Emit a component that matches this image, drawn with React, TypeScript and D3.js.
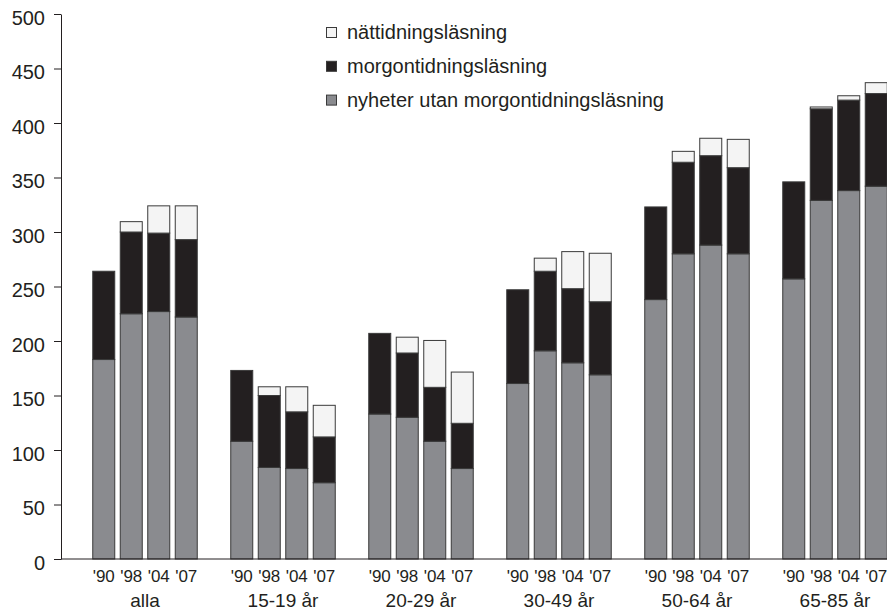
import { useEffect, useRef } from "react"
import * as d3 from "d3"

const groups = ["alla", "15-19 år", "20-29 år", "30-49 år", "50-64 år", "65-85 år"]
const years = ["'90", "'98", "'04", "'07"]

// per group, one value per year
const nyheterUtan = [
  [183, 225, 227, 222],
  [108, 84, 83, 70],
  [133, 130, 108, 83],
  [161, 191, 180, 169],
  [238, 280, 288, 280],
  [257, 329, 338, 342],
]
const morgontidning = [
  [81, 75, 72, 71],
  [65, 66, 52, 42],
  [74, 59, 49.5, 41.5],
  [86, 73, 68, 67],
  [85, 84, 82, 79],
  [89, 84, 83, 85],
]
const nattidning = [
  [0, 9.5, 25, 31],
  [0, 8, 23, 29],
  [0, 14.5, 43, 47],
  [0, 12, 34, 44.5],
  [0, 10, 16, 26],
  [0, 1.7, 4, 10],
]

const seriesKeys = ["nyheter", "morgon", "natt"]
const seriesLabels: Record<string, string> = {
  natt: "nättidningsläsning",
  morgon: "morgontidningsläsning",
  nyheter: "nyheter utan morgontidningsläsning",
}
const colors: Record<string, string> = {
  nyheter: "#8a8b8f",
  morgon: "#231f20",
  natt: "#f4f4f4",
}
const yTicks = [0, 50, 100, 150, 200, 250, 300, 350, 400, 450, 500]

const FONT = "'Liberation Sans', Arial, Helvetica, sans-serif"
const TEXT = "#231f20"

export default function App() {
  const svgRef = useRef<SVGSVGElement>(null)

  useEffect(() => {
    document.body.style.margin = "0"
    if (!svgRef.current) return
    const svg = d3.select(svgRef.current)
    svg.selectAll("*").remove()

    const width = 887
    const axisX = 61

    const y = d3.scaleLinear().domain([0, 500]).range([559, 14])
    const x0 = d3.scaleBand().domain(groups).range([76, 904])
    const x1 = d3.scaleBand().domain(years).range([14, 124]).paddingInner(0.2).paddingOuter(0.1)

    const rows = groups.flatMap((g, gi) =>
      years.map((yr, yi) => ({
        group: g,
        year: yr,
        nyheter: nyheterUtan[gi][yi],
        morgon: morgontidning[gi][yi],
        natt: nattidning[gi][yi],
      })),
    )

    const stacked = d3.stack<any>().keys(seriesKeys)(rows)

    // Bars
    const layers = svg
      .append("g")
      .selectAll("g")
      .data(stacked)
      .enter()
      .append("g")
      .attr("fill", (d) => colors[d.key])

    layers
      .selectAll("rect")
      .data((d) => d.filter((s) => s[1] - s[0] > 0))
      .enter()
      .append("rect")
      .attr("x", (d) => (x0(d.data.group) ?? 0) + (x1(d.data.year) ?? 0))
      .attr("width", x1.bandwidth())
      .attr("y", (d) => y(d[1]))
      .attr("height", (d) => y(d[0]) - y(d[1]))
      .attr("stroke", "#3a3a3a")
      .attr("stroke-width", 1)

    // Y axis
    const yAxis = svg
      .append("g")
      .attr("transform", `translate(${axisX},0)`)
      .call(d3.axisLeft(y).tickValues(yTicks).tickSize(7).tickSizeOuter(0).tickPadding(9))
    yAxis.selectAll("path, line").attr("stroke", TEXT).attr("stroke-width", 1)
    yAxis
      .selectAll("text")
      .attr("font-family", FONT)
      .attr("font-size", 20)
      .attr("fill", TEXT)
      .attr("dy", "0.5em")

    // X axis line
    svg
      .append("line")
      .attr("x1", axisX)
      .attr("x2", width)
      .attr("y1", y(0))
      .attr("y2", y(0))
      .attr("stroke", TEXT)
      .attr("stroke-width", 1)

    // Year labels
    svg
      .append("g")
      .selectAll("text")
      .data(rows)
      .enter()
      .append("text")
      .attr("x", (d) => (x0(d.group) ?? 0) + (x1(d.year) ?? 0) + x1.bandwidth() / 2)
      .attr("y", 582)
      .attr("text-anchor", "middle")
      .attr("font-family", FONT)
      .attr("font-size", 17)
      .attr("fill", TEXT)
      .text((d) => d.year)

    // Group labels
    svg
      .append("g")
      .selectAll("text")
      .data(groups)
      .enter()
      .append("text")
      .attr("x", (d) => (x0(d) ?? 0) + x0.bandwidth() / 2)
      .attr("y", 607)
      .attr("text-anchor", "middle")
      .attr("font-family", FONT)
      .attr("font-size", 19)
      .attr("fill", TEXT)
      .text((d) => d)

    // Legend
    const legendOrder = ["natt", "morgon", "nyheter"]
    const legend = svg
      .append("g")
      .selectAll("g")
      .data(legendOrder)
      .enter()
      .append("g")
      .attr("transform", (_d, i) => `translate(326, ${39 + i * 33.8})`)

    legend
      .append("rect")
      .attr("x", 0.5)
      .attr("y", -11.5)
      .attr("width", 10)
      .attr("height", 10)
      .attr("fill", (d) => colors[d])
      .attr("stroke", "#3a3a3a")
      .attr("stroke-width", 1)

    legend
      .append("text")
      .attr("x", 21)
      .attr("y", 0)
      .attr("font-family", FONT)
      .attr("font-size", 20)
      .attr("fill", TEXT)
      .text((d) => seriesLabels[d])
  }, [])

  return <svg ref={svgRef} width={887} height={610} style={{ display: "block" }} />
}
